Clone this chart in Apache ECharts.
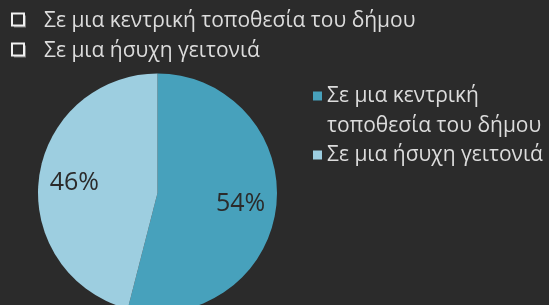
<!DOCTYPE html>
<html>
<head>
<meta charset="utf-8">
<script src="https://cdn.jsdelivr.net/npm/echarts@6/dist/echarts.min.js"></script>
<style>
  html, body { margin: 0; padding: 0; background: #2b2b2b; }
  #chart { width: 549px; height: 305px; }
</style>
</head>
<body>
<div id="chart"></div>
<script>
// επιλογές
var categories = ["Σε μια κεντρική τοποθεσία του δήμου", "Σε μια ήσυχη γειτονιά"];
var values = [54, 46];
var legendLines = { "Σε μια κεντρική τοποθεσία του δήμου": "\nΣε μια κεντρική\nτοποθεσία του δήμου" };

(function () {
  var myChart = echarts.init(document.getElementById("chart"));
  var colors = ["#47a1bc", "#9dcee0"];
  var font = "Open Sans";

  var pieData = categories.map(function (name, i) {
    return { name: name, value: values[i], itemStyle: { color: colors[i] } };
  });
  var labelData = categories.map(function (name, i) {
    return { name: name, value: values[i], itemStyle: { color: "rgba(0,0,0,0)" } };
  });

  var option = {
    backgroundColor: "#2b2b2b",
    animation: false,
    graphic: categories.map(function (name, i) {
      return {
        type: "group",
        left: 11,
        top: 11 + i * 30,
        children: [
          { type: "rect", shape: { x: 2, y: 2, width: 12, height: 12 }, style: { fill: "#7a7a7a" } },
          { type: "rect", shape: { x: 0, y: 0, width: 12, height: 12 }, style: { fill: "#2b2b2b", stroke: "#f0f0f0", lineWidth: 2 } },
          {
            type: "text", x: 32, y: 8,
            style: { text: name, fill: "#dcdcdc", font: "21px '" + font + "'", verticalAlign: "middle" }
          }
        ]
      };
    }),
    legend: [
      {
        data: [categories[0]],
        left: 313, top: 51, padding: 0,
        icon: "rect", itemWidth: 9, itemHeight: 9,
        formatter: function (n) { return legendLines[n] || n; },
        textStyle: { color: "#dcdcdc", fontFamily: font, fontSize: 21, lineHeight: 30 },
        selectedMode: false
      },
      {
        data: [categories[1]],
        left: 313, top: 141, padding: 0,
        icon: "rect", itemWidth: 9, itemHeight: 9,
        textStyle: { color: "#dcdcdc", fontFamily: font, fontSize: 21, lineHeight: 28 },
        selectedMode: false
      }
    ],
    series: [
      {
        type: "pie",
        center: [157.5, 193],
        radius: [0, 119.5],
        startAngle: 90,
        clockwise: true,
        silent: true,
        label: { show: false },
        labelLine: { show: false },
        data: pieData
      },
      {
        type: "pie",
        center: [157.5, 193],
        radius: [42, 119.5],
        startAngle: 90,
        clockwise: true,
        silent: true,
        label: {
          show: true, position: "inside",
          formatter: "{c}%",
          color: "#2b2b2b", fontFamily: font, fontSize: 25
        },
        labelLine: { show: false },
        data: labelData
      }
    ]
  };
  myChart.setOption(option);
  window.addEventListener("resize", function () {
    myChart.resize();
  });
})();
</script>
</body>
</html>
